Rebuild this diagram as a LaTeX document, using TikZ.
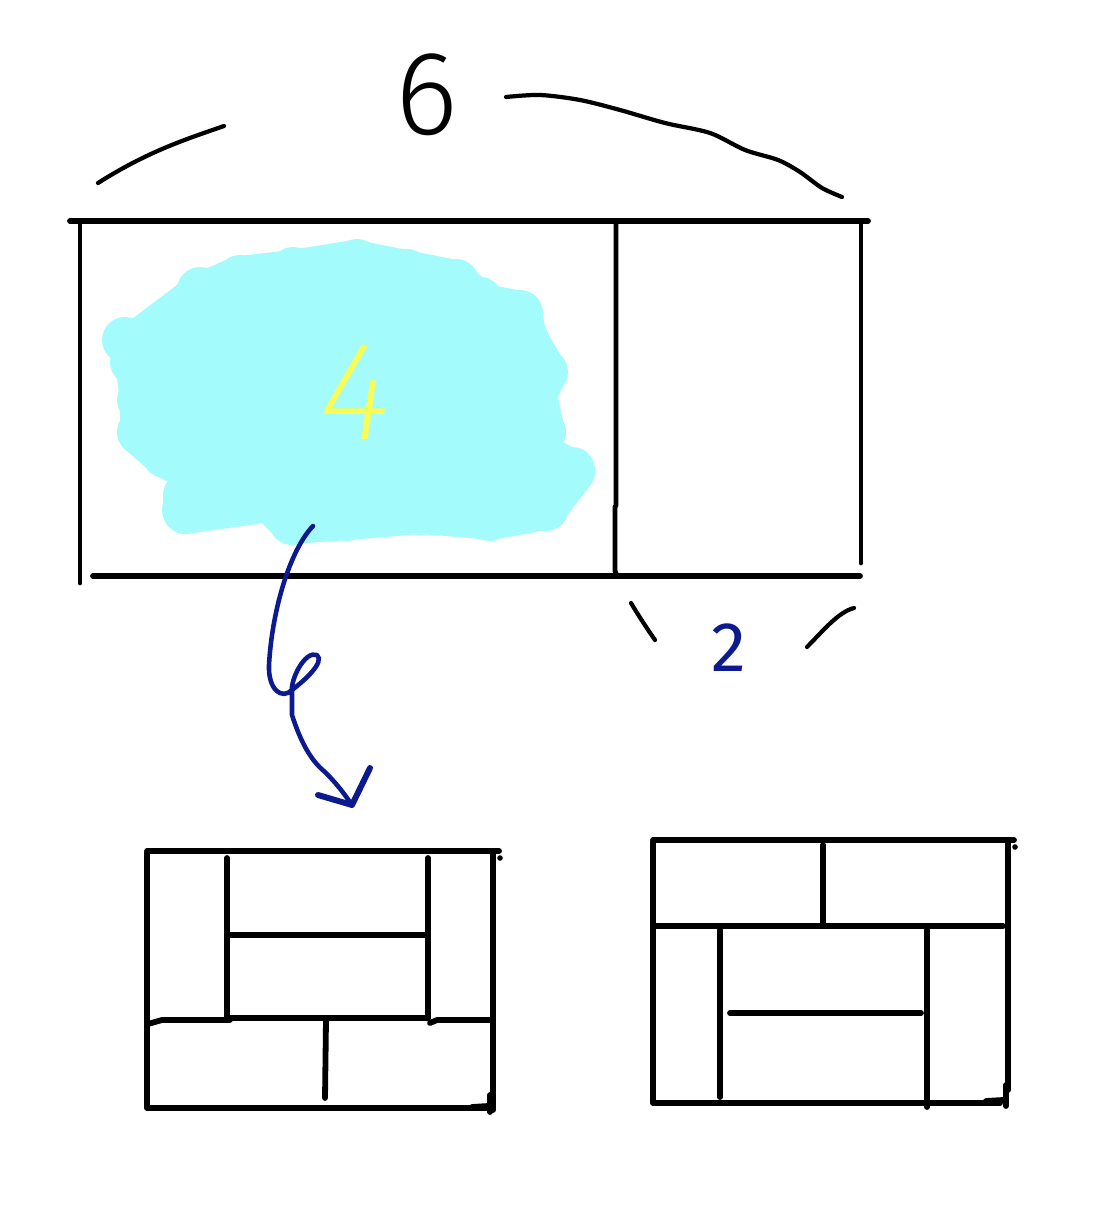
\documentclass[tikz,border=0pt]{standalone}
\usepackage{fontspec}
\setmainfont{Fira Sans}
\newfontfamily\lightfont{Fira Sans}[UprightFont=* Light]
\newfontfamily\thinfont{Fira Sans}[UprightFont=* ExtraLight, ItalicFont=* ExtraLight Italic]
\definecolor{blobcyan}{HTML}{A3FCFB}
\definecolor{chalkyellow}{HTML}{F8FC55}
\definecolor{inkblue}{HTML}{0D1A8E}
\tikzset{
  pen/.style={line width=3.3pt,line cap=round,line join=round},
  thinpen/.style={line width=2.8pt,line cap=round,line join=round},
  bracepen/.style={line width=2.4pt,line cap=round},
  arrowpen/.style={inkblue,line width=2.6pt,line cap=round,line join=round}
}
\begin{document}
\begin{tikzpicture}[x=0.02cm,y=-0.02cm]
  \useasboundingbox[fill=white] (0,0) rectangle (1096,1229);

  \fill[blobcyan] (138,342) -- (200,295) -- (240,278) -- (292,272) -- (355,262) -- (405,272)
    -- (455,282) -- (480,305) -- (520,313) -- (525,338) -- (545,372) -- (535,395) -- (543,432)
    -- (530,450) -- (573,472) -- (545,508) -- (490,518) -- (460,515) -- (420,512) -- (348,518)
    -- (292,522) -- (270,500) -- (185,512) -- (185,495) -- (205,478) -- (165,455) -- (142,435)
    -- (142,400) -- (138,370) -- cycle;
  \draw[blobcyan,line width=25pt,line join=round] (138,342) -- (200,295) -- (240,278) -- (292,272)
    -- (355,262) -- (405,272) -- (455,282) -- (480,305) -- (520,313) -- (525,338) -- (545,372)
    -- (535,395) -- (543,432) -- (530,450) -- (573,472) -- (545,508) -- (490,518) -- (460,515)
    -- (420,512) -- (348,518) -- (292,522) -- (270,500) -- (185,512) -- (185,495) -- (205,478)
    -- (165,455) -- (142,435) -- (142,400) -- (138,370) -- cycle;
  \foreach \bx/\by in {200/290,240/278,293/270,357/262,407/272,456/282,480/300,520/313,
      526/340,545/372,543/432,572/470,546/508,490/518,458/514,420/512,347/518,292/522,
      185/510,165/455,140/432,140/400,133/362,125/340}
    \fill[blobcyan] (\bx,\by) circle (23);
  \node[chalkyellow,font=\thinfont\itshape\fontsize{80}{80}\selectfont] (four) at (355,392) {4};

  \draw[pen] (70,221) -- (868,221);
  \draw[thinpen] (80,225) -- (80,583);
  \draw[pen] (93,576) -- (860,576);
  \draw[thinpen] (616,224) -- (616,505) -- (615,507) -- (615,571) -- (617,576);
  \draw[thinpen] (861,225) -- (861,563);

  \draw[bracepen] (98,183) .. controls (150,150) and (190,138) .. (224,126);
  \node[font=\lightfont\fontsize{68}{68}\selectfont] (six) at (427,95) {6};
  \draw[bracepen] plot[smooth] coordinates {(506,97) (540,95) (580,100) (620,110) (665,123)
    (710,133) (745,150) (778,160) (800,172) (822,188) (842,197)};

  \draw[bracepen] (631,603) .. controls (640,618) and (648,630) .. (655,640);
  \node[inkblue,font=\fontsize{40}{40}\selectfont] (two) at (729,648) {2};
  \draw[bracepen] (807,647) .. controls (822,632) and (838,612) .. (854,608);

  \coordinate (tail) at (313,526);
  \coordinate (tip) at (352,805);
  \draw[arrowpen] (tail) .. controls (290,550) and (272,610) .. (269,665)
    .. controls (268,690) and (282,700) .. (292,690)
    .. controls (305,680) and (325,662) .. (317,655)
    .. controls (305,650) and (290,680) .. (292,692) -- (292,715)
    .. controls (300,740) and (310,760) .. (325,772)
    .. controls (338,785) and (345,795) .. (tip);
  \draw[arrowpen,line width=3.4pt] (318,795) -- (tip) -- (370,768);

  \draw[pen] (147,851) -- (499,851);
  \fill (500,858) circle (2.8);
  \draw[pen] (147,853) -- (147,1108) -- (488,1108);
  \draw[pen] (472,1107) -- (488,1106);
  \draw[pen] (493,852) -- (493,1110);
  \draw[pen] (490,1095) -- (490,1112);
  \draw[pen] (227,858) -- (227,1020);
  \draw[pen] (428,858) -- (428,1018);
  \draw[pen] (228,935) -- (428,935);
  \draw[pen] (148,1024) -- (162,1020) -- (230,1020);
  \draw[pen] (230,1018) -- (428,1018);
  \draw[pen] (430,1023) -- (437,1020) -- (490,1020);
  \draw[pen] (326,1020) -- (325,1098);

  \draw[pen] (653,840) -- (1014,840);
  \fill (1015,847) circle (2.8);
  \draw[pen] (653,842) -- (653,1103) -- (1000,1103);
  \draw[pen] (986,1101) -- (1003,1100);
  \draw[pen] (1008,843) -- (1008,1090);
  \draw[pen] (1006,1085) -- (1006,1106);
  \draw[pen] (823,845) -- (823,925);
  \draw[pen] (655,926) -- (1003,926);
  \draw[pen] (720,930) -- (720,1097);
  \draw[pen] (927,930) -- (927,1107);
  \draw[pen] (730,1013) -- (921,1013);
\end{tikzpicture}
\end{document}
